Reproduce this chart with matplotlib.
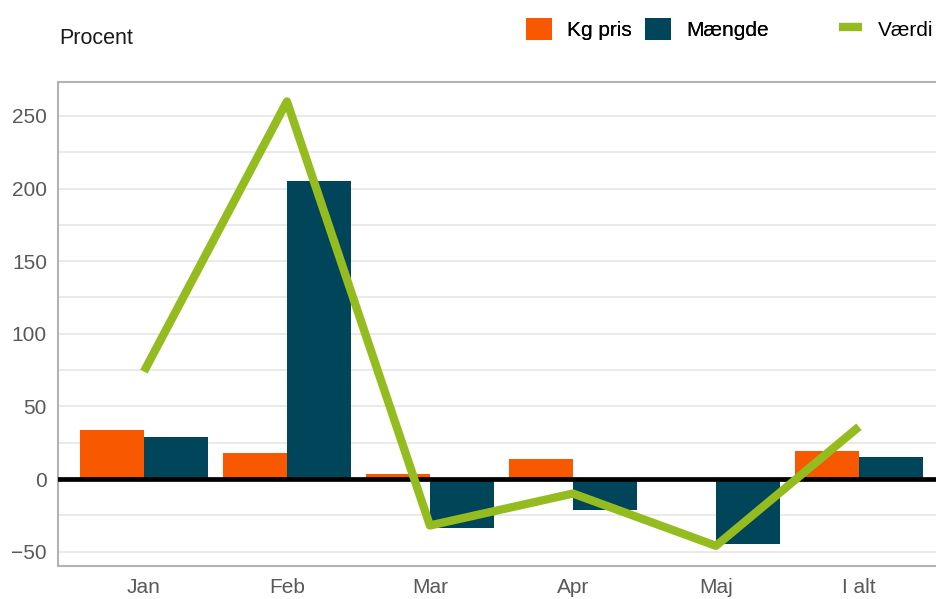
import numpy as np
import matplotlib.pyplot as plt

plt.rcParams['font.family'] = ['Liberation Sans', 'DejaVu Sans']

categories = ['Jan', 'Feb', 'Mar', 'Apr', 'Maj', 'I alt']
kg_pris = [34, 18, 3.5, 14, 0, 19]
maengde = [29, 205, -34, -21, -45, 15]
vaerdi = [74, 260, -32, -10, -46, 36]

ORANGE = '#f75800'
NAVY = '#00455a'
GREEN = '#95bc1f'

fig = plt.figure(figsize=(9.36, 5.99), dpi=100)
ax = fig.add_axes([58 / 936, 33 / 599, 878 / 936, 484 / 599])

x = np.arange(len(categories))
w = 0.45
b1 = ax.bar(x - w / 2, kg_pris, w, color=ORANGE, label='Kg pris', zorder=2)
b2 = ax.bar(x + w / 2, maengde, w, color=NAVY, label='Mængde', zorder=2)
ln, = ax.plot(x, vaerdi, color=GREEN, lw=6, label='Værdi', zorder=4,
              solid_joinstyle='round', solid_capstyle='butt')
ax.axhline(0, color='black', lw=3.4, zorder=3)

ax.set_xlim(-0.601, 5.539)
ax.set_ylim(-59.9, 273.4)
ax.set_yticks(np.arange(-50, 251, 50))
ax.set_yticks(np.arange(-50, 251, 25), minor=True)
ax.set_xticks(x)
ax.set_xticklabels(categories)
ax.grid(axis='y', which='both', color='#e8e8e8', lw=1.3, zorder=0)
ax.set_axisbelow(True)

ax.tick_params(axis='both', which='both', length=0, labelsize=15,
               labelcolor='#595959')
ax.tick_params(axis='x', pad=8.5)
ax.tick_params(axis='y', pad=8)

for s in ['left', 'top', 'bottom']:
    ax.spines[s].set_color('#b3b3b3')
    ax.spines[s].set_linewidth(1.5)
ax.spines['right'].set_visible(False)

fig.text(59 / 936, 1 - 39 / 599, 'Procent', fontsize=15.5, color='#1a1a1a',
         va='center', ha='left')

leg1 = fig.legend(handles=[b1, b2], loc='center left',
                  bbox_to_anchor=(526 / 936, 1 - 29 / 599), ncol=2,
                  frameon=False, fontsize=15, handlelength=1.25,
                  handleheight=1.25, handletextpad=0.72, columnspacing=0.63,
                  borderpad=0, borderaxespad=0)
fig.legend(handles=[ln], loc='center left',
           bbox_to_anchor=(839 / 936, 1 - 29 / 599), frameon=False,
           fontsize=15, handlelength=1.1, handleheight=1.25,
           handletextpad=0.77, borderpad=0, borderaxespad=0)
fig.add_artist(leg1)

fig.savefig('out.png', dpi=100)
